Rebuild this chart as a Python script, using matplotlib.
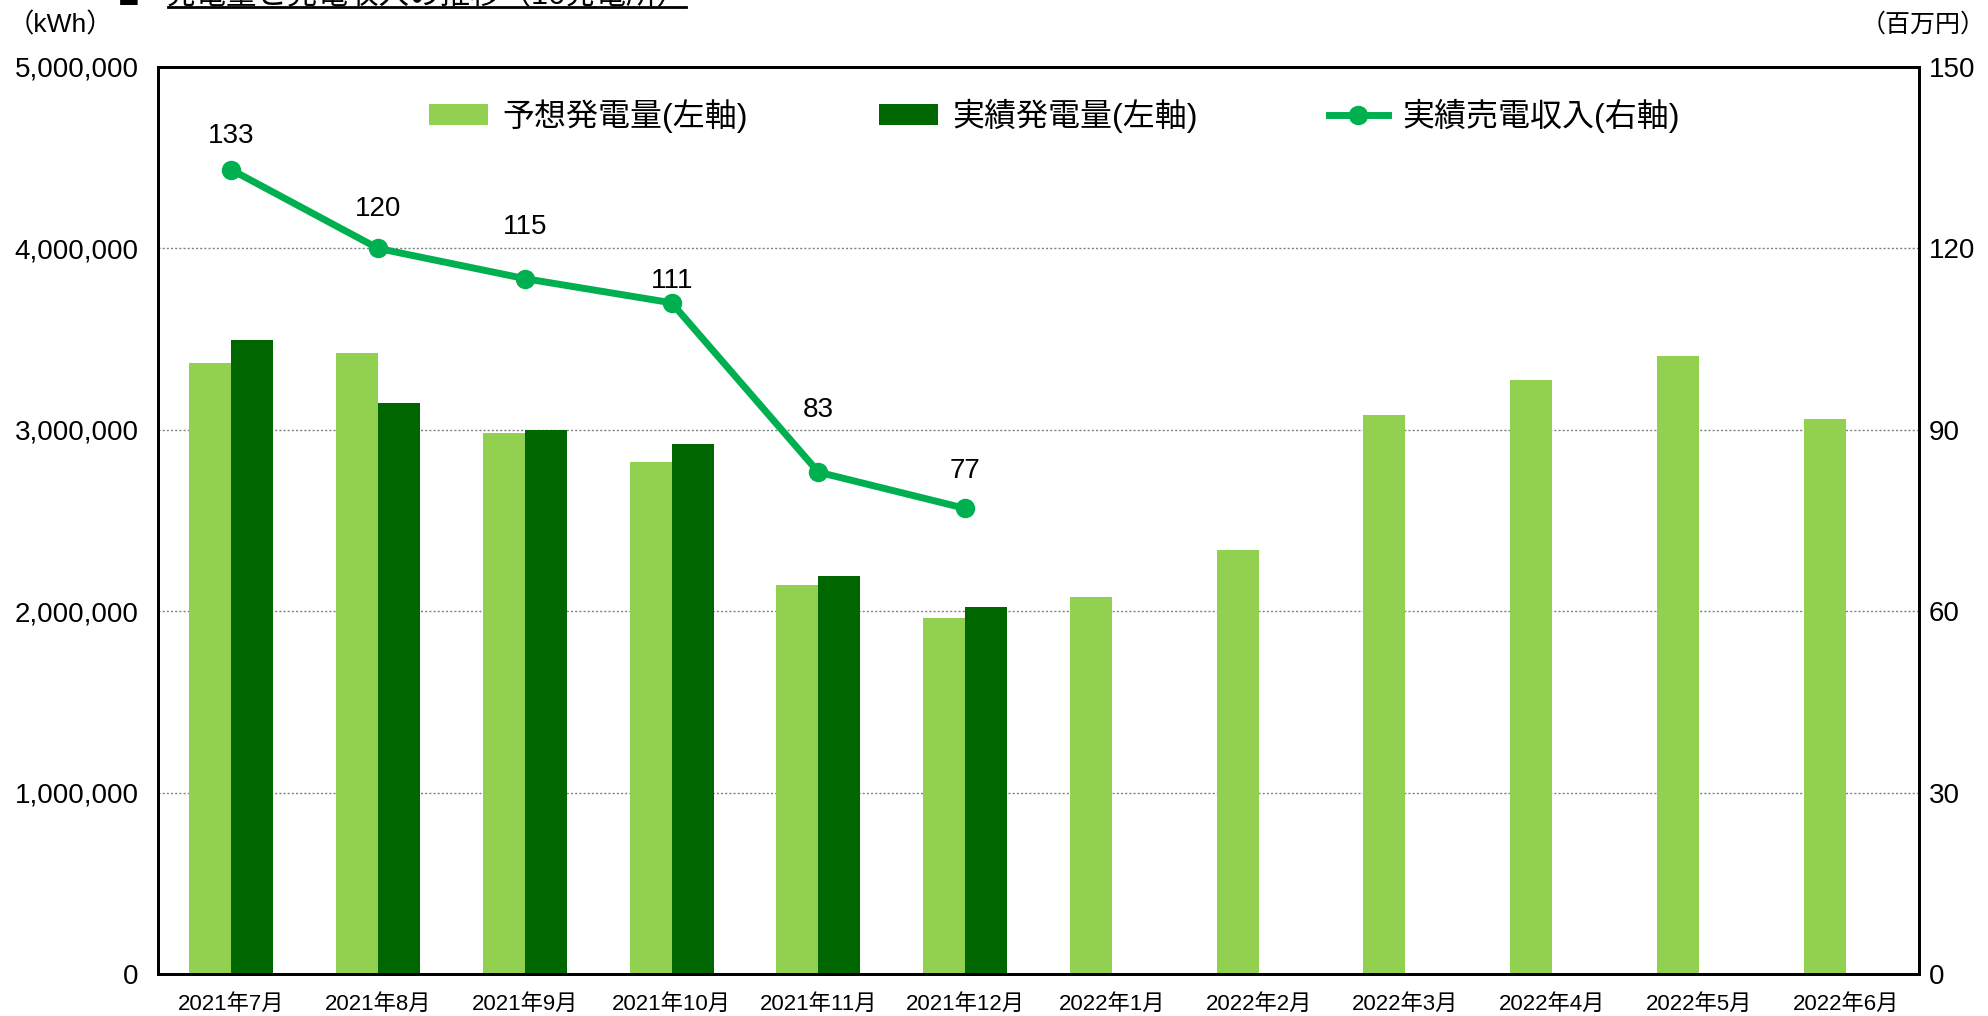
import numpy as np
import matplotlib
matplotlib.use("Agg")
import matplotlib.pyplot as plt
from matplotlib.lines import Line2D

plt.rcParams['font.family'] = ['Liberation Sans', 'Noto Sans CJK JP', 'DejaVu Sans']

months = ["2021年7月", "2021年8月", "2021年9月", "2021年10月", "2021年11月", "2021年12月",
          "2022年1月", "2022年2月", "2022年3月", "2022年4月", "2022年5月", "2022年6月"]
forecast_kwh = [3370000, 3425000, 2985000, 2820000, 2145000, 1965000,
                2080000, 2340000, 3080000, 3275000, 3405000, 3060000]
actual_kwh = [3495000, 3150000, 2998000, 2920000, 2195000, 2025000]
revenue = [133, 120, 115, 111, 83, 77]
# vertical offsets of the value labels (pixels above the point)
label_offsets = [34, 39, 52, 22, 62, 37]

LIGHT = "#92D050"
DARK = "#006600"
LINE = "#00B050"

fig = plt.figure(figsize=(19.88, 10.16), dpi=100)
ax = fig.add_axes([158 / 1988, 1 - 974 / 1016, (1919 - 158) / 1988, (974 - 67) / 1016])

x = np.arange(len(months))
w = 0.286
ax.bar(x[:len(forecast_kwh)] - w / 2, forecast_kwh, width=w, color=LIGHT, label="予想発電量(左軸)", zorder=2)
ax.bar(x[:len(actual_kwh)] + w / 2, actual_kwh, width=w, color=DARK, label="実績発電量(左軸)", zorder=2)

ax.set_xlim(-0.5, len(months) - 0.5)
ax.set_ylim(0, 5000000)
ax.set_yticks(np.arange(0, 5000001, 1000000))
ax.set_yticklabels([f"{int(v):,}" for v in ax.get_yticks()], fontsize=20)
ax.set_xticks(x)
ax.set_xticklabels(months, fontsize=16)
ax.tick_params(axis="both", length=0)
ax.tick_params(axis="y", pad=14)
ax.tick_params(axis="x", pad=14)
ax.yaxis.grid(True, linestyle=(0, (1.5, 1.5)), color="#808080", linewidth=1, zorder=0)
ax.set_axisbelow(True)
for s in ax.spines.values():
    s.set_linewidth(2)
    s.set_color("black")

ax2 = ax.twinx()
ax2.plot(x[:len(revenue)], revenue, color=LINE, linewidth=5, marker="o", markersize=13,
         label="実績売電収入(右軸)", zorder=3)
ax2.set_ylim(0, 150)
ax2.set_yticks(np.arange(0, 151, 30))
ax2.set_yticklabels([str(v) for v in range(0, 151, 30)], fontsize=20)
ax2.tick_params(axis="y", length=0, pad=7)
for s in ax2.spines.values():
    s.set_linewidth(2)
    s.set_color("black")

for xi, v, off in zip(x, revenue, label_offsets):
    ax2.annotate(str(v), (xi, v), xytext=(0, off * 0.72), textcoords="offset points",
                 ha="center", va="center", fontsize=20)

h1, l1 = ax.get_legend_handles_labels()
h2, l2 = ax2.get_legend_handles_labels()
leg = ax2.legend(h1 + h2, l1 + l2, loc="upper center", bbox_to_anchor=(0.509, 0.997), ncol=3,
                 frameon=False, fontsize=23, handlelength=1.85, handleheight=0.62,
                 columnspacing=4.1, handletextpad=0.45)

fig.text(8 / 1988, 1 - 25 / 1016, "（kWh）", fontsize=19, ha="left", va="center")
fig.text(1 - 2 / 1988, 1 - 25 / 1016, "（百万円）", fontsize=18, ha="right", va="center")

# title, mostly cut off at the top edge
fig.text(118 / 1988, 1 - 7 / 1016, "■", fontsize=26, ha="left", va="baseline")
fig.text(165 / 1988, 1 - 4 / 1016, "発電量と売電収入の推移（16発電所）", fontsize=22,
         ha="left", va="baseline")
fig.add_artist(Line2D([168 / 1988, 686 / 1988], [1 - 7 / 1016, 1 - 7 / 1016],
                      transform=fig.transFigure, color="black", linewidth=2))

fig.savefig("out.png", dpi=100)
